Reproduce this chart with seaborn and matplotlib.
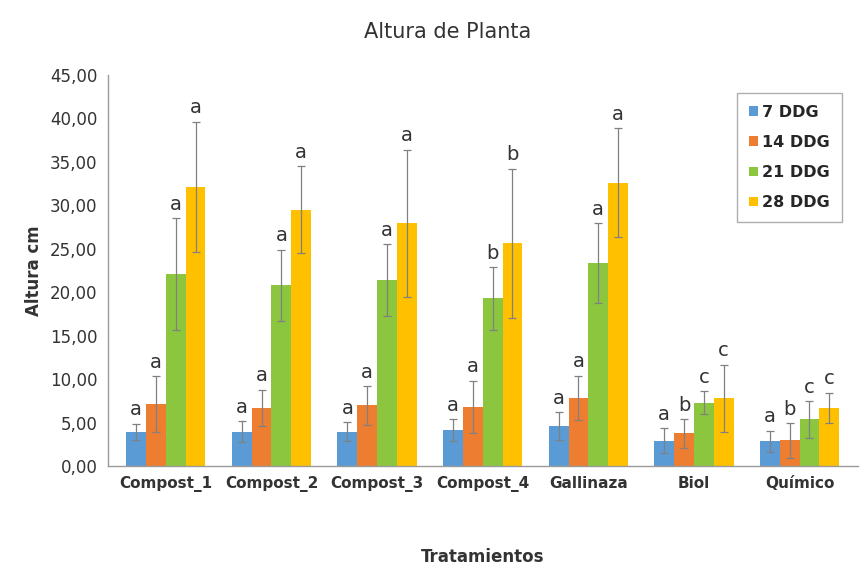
import pandas as pd
import matplotlib
matplotlib.use("Agg")
import matplotlib.pyplot as plt
from matplotlib.ticker import FuncFormatter, MultipleLocator
import seaborn as sns

# data
tratamientos = ["Compost_1", "Compost_2", "Compost_3", "Compost_4", "Gallinaza", "Biol", "Químico"]
dias = ["7 DDG", "14 DDG", "21 DDG", "28 DDG"]

altura_7 = [3.93, 3.93, 3.93, 4.1, 4.57, 2.93, 2.86]
altura_14 = [7.14, 6.68, 6.96, 6.8, 7.86, 3.75, 2.96]
altura_21 = [22.1, 20.8, 21.4, 19.3, 23.3, 7.3, 5.36]
altura_28 = [32.1, 29.5, 27.9, 25.6, 32.6, 7.8, 6.7]

err_7 = [0.95, 1.2, 1.1, 1.25, 1.6, 1.4, 1.2]
err_14 = [3.2, 2.1, 2.25, 3.0, 2.55, 1.65, 2.0]
err_21 = [6.4, 4.1, 4.1, 3.6, 4.6, 1.3, 2.1]
err_28 = [7.5, 5.0, 8.5, 8.6, 6.3, 3.85, 1.75]

letras_7 = ["a", "a", "a", "a", "a", "a", "a"]
letras_14 = ["a", "a", "a", "a", "a", "b", "b"]
letras_21 = ["a", "a", "a", "b", "a", "c", "c"]
letras_28 = ["a", "a", "a", "b", "a", "c", "c"]

colores = ["#5B9BD5", "#ED7D31", "#8CC63F", "#FFC000"]

medias = [altura_7, altura_14, altura_21, altura_28]
errores = [err_7, err_14, err_21, err_28]
letras = [letras_7, letras_14, letras_21, letras_28]

rows = []
for d, vals in zip(dias, medias):
    for t, v in zip(tratamientos, vals):
        rows.append({"Tratamiento": t, "Dia": d, "Altura": v})
df = pd.DataFrame(rows)

sns.set_style("white")
plt.rcParams["font.family"] = ["DejaVu Sans"]

fig = plt.figure(figsize=(8.62, 5.76), dpi=100)
ax = fig.add_axes([0.125, 0.191, 0.87, 0.679])

sns.barplot(data=df, x="Tratamiento", y="Altura", hue="Dia", order=tratamientos,
            hue_order=dias, palette=colores, errorbar=None, width=0.75,
            saturation=1, linewidth=0, ax=ax)

# error bars and significance letters
for cont, errs, lets in zip(ax.containers, errores, letras):
    xs = [b.get_x() + b.get_width() / 2 for b in cont]
    hs = [b.get_height() for b in cont]
    ax.errorbar(xs, hs, yerr=errs, fmt="none", ecolor="#808080",
                elinewidth=0.9, capsize=3, capthick=0.9)
    for x, h, e, l in zip(xs, hs, errs, lets):
        ax.text(x, h + e + 0.5, l, ha="center", va="bottom", fontsize=14, color="#333333")

ax.set_ylim(0, 45)
ax.yaxis.set_major_locator(MultipleLocator(5))
ax.yaxis.set_major_formatter(FuncFormatter(lambda v, p: f"{v:.2f}".replace(".", ",")))
ax.set_xlim(-0.55, len(tratamientos) - 0.45)

for s in ["top", "right"]:
    ax.spines[s].set_visible(False)
for s in ["left", "bottom"]:
    ax.spines[s].set_color("#9a9a9a")
    ax.spines[s].set_linewidth(1)

ax.tick_params(axis="both", which="both", direction="out", length=4, color="#9a9a9a")
ax.tick_params(axis="y", labelsize=12, labelcolor="#333333")
ax.tick_params(axis="x", labelsize=11, labelcolor="#333333")
for lab in ax.get_xticklabels():
    lab.set_fontweight("bold")

ax.set_xlabel("Tratamientos", fontsize=12, fontweight="bold", color="#333333", labelpad=40)
ax.set_ylabel("Altura cm", fontsize=12, fontweight="bold", color="#333333", labelpad=5)
fig.text(0.519, 0.945, "Altura de Planta", fontsize=15, color="#333333", ha="center", va="center")

leg = ax.legend(loc="upper right", bbox_to_anchor=(0.99, 0.975), frameon=True,
                fancybox=False, edgecolor="#9a9a9a", handlelength=0.55, handleheight=0.55,
                handletextpad=0.3, labelspacing=0.95, borderpad=0.75,
                prop={"weight": "bold", "size": 11.5})
leg.get_frame().set_linewidth(1)
leg.set_title(None)

fig.savefig("out.png", dpi=100)
